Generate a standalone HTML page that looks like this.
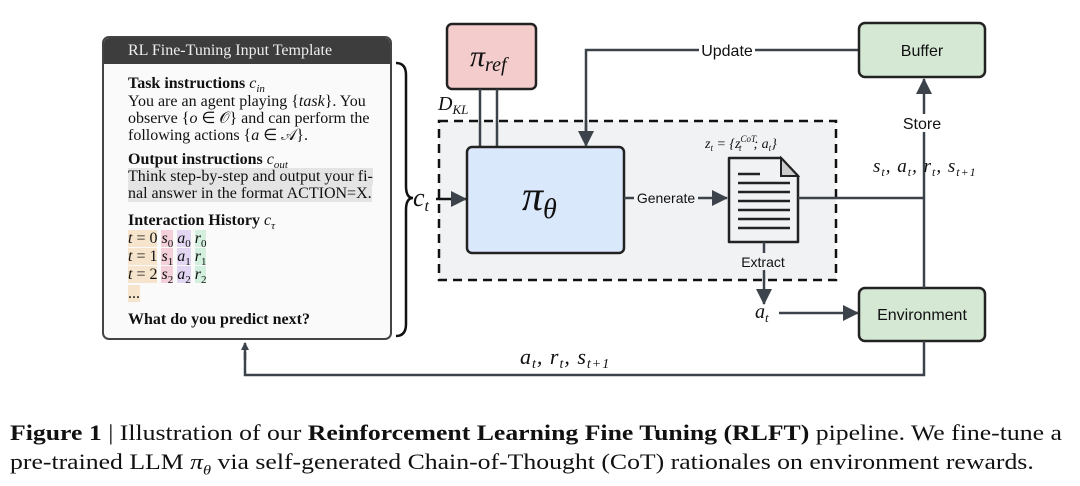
<!DOCTYPE html>
<html><head><meta charset="utf-8"><style>
body{margin:0;background:#fff;width:1080px;height:486px;overflow:hidden;position:relative;font-family:"Liberation Serif",serif}
.cap{position:absolute;left:10px;font-size:22px;color:#111;white-space:nowrap;transform:scaleX(1.17);transform-origin:0 0}
.tpl{position:absolute;left:102px;top:36px;width:290px;height:304px;border:2px solid #444;border-radius:7px;background:#fafafa;overflow:hidden;box-sizing:border-box}
.hd{background:#3d3d3d;color:#eee;font-size:16px;height:26px;line-height:26px;padding-left:24px}
.l{position:absolute;left:24px;font-size:16px;line-height:17px;color:#111;white-space:nowrap}
.l b{font-weight:bold}
.g{background:#e4e4e4}
.o{background:#f6e4cc}.p{background:#f3d0da}.v{background:#e2d6f3}.gr{background:#d3f0df}
i{font-style:italic}
sub{font-size:11px}
</style></head><body>
<div class="tpl"><div class="hd">RL Fine-Tuning Input Template</div>
<div class="l" style="top:37px"><b>Task instructions</b> <i>c<sub>in</sub></i></div>
<div class="l" style="top:55px">You are an agent playing {<i>task</i>}. You</div>
<div class="l" style="top:72px">observe {<i>o</i> ∈ 𝒪} and can perform the</div>
<div class="l" style="top:89px">following actions {<i>a</i> ∈ 𝒜}.</div>
<div class="l" style="top:113px"><b>Output instructions</b> <i>c<sub>out</sub></i></div>
<div class="l" style="top:130px"><span class="g">Think step-by-step and output your fi-</span></div>
<div class="l" style="top:147px"><span class="g">nal answer in the format ACTION=X.</span></div>
<div class="l" style="top:174px"><b>Interaction History</b> <i>c<sub>τ</sub></i></div>
<div class="l" style="top:192px"><span class="o"><i>t</i> = 0</span> <span class="p"><i>s</i><sub>0</sub></span> <span class="v"><i>a</i><sub>0</sub></span> <span class="gr"><i>r</i><sub>0</sub></span></div>
<div class="l" style="top:210px"><span class="o"><i>t</i> = 1</span> <span class="p"><i>s</i><sub>1</sub></span> <span class="v"><i>a</i><sub>1</sub></span> <span class="gr"><i>r</i><sub>1</sub></span></div>
<div class="l" style="top:228px"><span class="o"><i>t</i> = 2</span> <span class="p"><i>s</i><sub>2</sub></span> <span class="v"><i>a</i><sub>2</sub></span> <span class="gr"><i>r</i><sub>2</sub></span></div>
<div class="l" style="top:247px"><span class="o">...</span></div>
<div class="l" style="top:273px"><b>What do you predict next?</b></div>
</div>
<svg width="1080" height="486" style="position:absolute;left:0;top:0" font-family="Liberation Sans, sans-serif">
<defs><marker id="a" markerWidth="8" markerHeight="8" refX="7" refY="4" orient="auto" markerUnits="userSpaceOnUse" viewBox="0 0 8 8"><path d="M0,0L8,4L0,8z" fill="#3d434a"/></marker>
<marker id="b" markerWidth="16" markerHeight="16" refX="15" refY="8" orient="auto" markerUnits="userSpaceOnUse" viewBox="0 0 16 16"><path d="M0,0L16,8L0,16z" fill="#3d434a"/></marker></defs>
<path d="M396,63 Q406,63 406,75 L406,186 Q406,198 413,198 Q406,198 406,210 L406,324 Q406,336 396,336" fill="none" stroke="#111" stroke-width="2.5"/>
<text x="413" y="206" font-family="Liberation Serif" font-style="italic" font-size="26" fill="#111">c<tspan font-size="16" dy="5">t</tspan></text>
<rect x="439" y="121" width="397" height="159" fill="#f1f2f4" stroke="#111" stroke-width="2.5" stroke-dasharray="9,6"/>
<line x1="436" y1="199" x2="466" y2="199" stroke="#111" stroke-width="2.5" marker-end="url(#b)"/>
<rect x="447" y="24" width="89" height="65" rx="5" fill="#f4cccc" stroke="#222" stroke-width="2.5"/>
<text x="470" y="66" font-family="Liberation Serif" font-style="italic" font-size="30" fill="#111">π<tspan font-size="20" dy="5">ref</tspan></text>
<line x1="480" y1="89" x2="480" y2="147" stroke="#3d434a" stroke-width="2.5"/>
<line x1="497" y1="89" x2="497" y2="147" stroke="#3d434a" stroke-width="2.5"/>
<text x="438" y="110" font-family="Liberation Serif" font-style="italic" font-size="20" fill="#111">D<tspan font-size="13" dy="4">KL</tspan></text>
<rect x="467" y="147" width="157" height="106" rx="5" fill="#dae8fc" stroke="#222" stroke-width="2.5"/>
<text x="522" y="210" font-family="Liberation Serif" font-style="italic" font-size="42" fill="#111">π<tspan font-size="28" dy="8">θ</tspan></text>
<path d="M586,133 L586,50 L859,50" fill="none" stroke="#3d434a" stroke-width="2.5"/>
<line x1="586" y1="120" x2="586" y2="146" stroke="#3d434a" stroke-width="2.5" marker-end="url(#b)"/>
<rect x="699" y="40" width="56" height="18" fill="#fff"/>
<text x="727" y="56" text-anchor="middle" font-size="16" fill="#111">Update</text>
<rect x="859" y="23" width="126" height="54" rx="6" fill="#d5e8d4" stroke="#222" stroke-width="2.5"/>
<text x="922" y="56" text-anchor="middle" font-size="16" fill="#111">Buffer</text>
<rect x="859" y="288" width="126" height="53" rx="6" fill="#d5e8d4" stroke="#222" stroke-width="2.5"/>
<text x="922" y="320" text-anchor="middle" font-size="16" fill="#111">Environment</text>
<line x1="624" y1="198" x2="727" y2="198" stroke="#3d434a" stroke-width="2.5" marker-end="url(#b)"/>
<rect x="634" y="189" width="64" height="17" fill="#f1f2f4"/>
<text x="666" y="203" text-anchor="middle" font-size="14" fill="#111">Generate</text>
<text x="705" y="148" font-family="Liberation Serif" font-style="italic" font-size="14" fill="#111">z<tspan font-size="9" dy="3">t</tspan><tspan dy="-3"> = {z</tspan><tspan font-size="9" dy="-6">CoT</tspan><tspan font-size="9" dx="-17" dy="9">t</tspan><tspan dx="12" dy="-3">; a</tspan><tspan font-size="9" dy="3">t</tspan><tspan dy="-3">}</tspan></text>
<path d="M729,158 L781,158 L798,176 L798,242 L729,242 Z" fill="#f1f2f4" stroke="#222" stroke-width="2.5" stroke-linejoin="round"/>
<path d="M781,158 L781,176 L798,176 Z" fill="#ccc" stroke="#222" stroke-width="2"/>
<g stroke="#222" stroke-width="2.5"><line x1="738" y1="174" x2="760" y2="174"/><line x1="738" y1="183" x2="790" y2="183"/><line x1="738" y1="192" x2="790" y2="192"/><line x1="738" y1="201" x2="790" y2="201"/><line x1="738" y1="210" x2="790" y2="210"/><line x1="738" y1="219" x2="790" y2="219"/><line x1="738" y1="228" x2="790" y2="228"/></g>
<line x1="798" y1="198" x2="924" y2="198" stroke="#3d434a" stroke-width="2.5"/>
<line x1="924" y1="288" x2="924" y2="79" stroke="#3d434a" stroke-width="2.5" marker-end="url(#b)"/>
<rect x="897" y="114" width="52" height="18" fill="#fff"/>
<text x="922" y="129" text-anchor="middle" font-size="16" fill="#111">Store</text>
<text x="873" y="172" font-family="Liberation Serif" font-style="italic" font-size="19" fill="#111" letter-spacing="1">s<tspan font-size="12" dy="4">t</tspan><tspan dy="-4">, a</tspan><tspan font-size="12" dy="4">t</tspan><tspan dy="-4">,  r</tspan><tspan font-size="12" dy="4">t</tspan><tspan dy="-4">, s</tspan><tspan font-size="12" dy="4">t+1</tspan></text>
<line x1="764" y1="242" x2="764" y2="304" stroke="#3d434a" stroke-width="2.5" marker-end="url(#b)"/>
<rect x="735" y="253" width="58" height="17" fill="#f1f2f4"/>
<text x="763" y="267" text-anchor="middle" font-size="14" fill="#111">Extract</text>
<text x="755" y="318" font-family="Liberation Serif" font-style="italic" font-size="20" fill="#111">a<tspan font-size="13" dy="4">t</tspan></text>
<line x1="779" y1="313" x2="858" y2="313" stroke="#3d434a" stroke-width="2.5" marker-end="url(#b)"/>
<path d="M924,341 L924,375 L245,375 L245,352" fill="none" stroke="#3d434a" stroke-width="2.5"/>
<line x1="245" y1="360" x2="245" y2="343" stroke="#3d434a" stroke-width="2.5" marker-end="url(#a)"/>
<text x="520" y="364" font-family="Liberation Serif" font-style="italic" font-size="22" fill="#111" letter-spacing="1">a<tspan font-size="14" dy="4">t</tspan><tspan dy="-4">, r</tspan><tspan font-size="14" dy="4">t</tspan><tspan dy="-4">, s</tspan><tspan font-size="14" dy="4">t+1</tspan></text>
</svg>
<div class="cap" style="top:420px"><b>Figure 1</b> | Illustration of our <b>Reinforcement Learning Fine Tuning (RLFT)</b> pipeline. We fine-tune a</div>
<div class="cap" style="top:449px">pre-trained LLM <i>π<sub style="font-size:14px">θ</sub></i> via self-generated Chain-of-Thought (CoT) rationales on environment rewards.</div>
</body></html>
